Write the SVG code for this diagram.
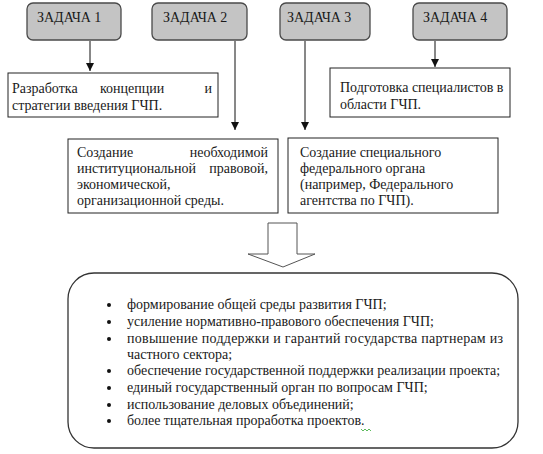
<svg xmlns="http://www.w3.org/2000/svg" width="543" height="454" viewBox="0 0 543 454">
<defs>
<marker id="ah" viewBox="0 0 8 8" refX="8" refY="4" markerWidth="8" markerHeight="8" markerUnits="userSpaceOnUse" orient="auto">
<path d="M0,0 L8,4 L0,8 Z" fill="#111"/>
</marker>
</defs>
<rect width="543" height="454" fill="#fff"/>
<g id="task1"><rect fill="#c4c4c4" stroke="#4a4a4a" stroke-width="1.3" x="27" y="3" width="94" height="37" rx="6"/><text font-family="Liberation Serif, serif" font-size="14" fill="#1a1a1a" x="37" y="22">ЗАДАЧА 1</text></g>
<g id="task2"><rect fill="#c4c4c4" stroke="#4a4a4a" stroke-width="1.3" x="152" y="3" width="95" height="37" rx="6"/><text font-family="Liberation Serif, serif" font-size="14" fill="#1a1a1a" x="163" y="22">ЗАДАЧА 2</text></g>
<g id="task3"><rect fill="#c4c4c4" stroke="#4a4a4a" stroke-width="1.3" x="280" y="3" width="90" height="37" rx="6"/><text font-family="Liberation Serif, serif" font-size="14" fill="#1a1a1a" x="287" y="22">ЗАДАЧА 3</text></g>
<g id="task4"><rect fill="#c4c4c4" stroke="#4a4a4a" stroke-width="1.3" x="413" y="3" width="94" height="37" rx="6"/><text font-family="Liberation Serif, serif" font-size="14" fill="#1a1a1a" x="423" y="22">ЗАДАЧА 4</text></g>
<g id="connectors" stroke="#111" stroke-width="1" fill="none">
<line x1="90" y1="41" x2="90" y2="71" marker-end="url(#ah)"/>
<line x1="235" y1="41" x2="235" y2="130" marker-end="url(#ah)"/>
<line x1="305" y1="41" x2="305" y2="130" marker-end="url(#ah)"/>
<line x1="435" y1="41" x2="435" y2="67" marker-end="url(#ah)"/>
<path d="M268,223 L297,223 L297,254 L315,254 L283,267 L248,254 L268,254 Z" fill="#fff" stroke="#555"/>
</g>
<g id="box1"><rect fill="#fff" stroke="#222" x="8" y="73" width="210" height="44"/>
<text font-family="Liberation Serif, serif" font-size="14" fill="#1a1a1a" y="93"><tspan x="12">Разработка</tspan><tspan x="100">концепции</tspan><tspan x="212" text-anchor="end">и</tspan></text>
<text font-family="Liberation Serif, serif" font-size="14" fill="#1a1a1a" x="12" y="110">стратегии введения ГЧП.</text></g>
<g id="box4"><rect fill="#fff" stroke="#222" x="330" y="68" width="180" height="49"/>
<text font-family="Liberation Serif, serif" font-size="14" fill="#1a1a1a" x="340" y="92">Подготовка специалистов в</text>
<text font-family="Liberation Serif, serif" font-size="14" fill="#1a1a1a" x="340" y="109">области ГЧП.</text></g>
<g id="box2"><rect fill="#fff" stroke="#222" x="68" y="139" width="210" height="74"/>
<text font-family="Liberation Serif, serif" font-size="14" fill="#1a1a1a" y="157"><tspan x="77">Создание</tspan><tspan x="268" text-anchor="end">необходимой</tspan></text>
<text font-family="Liberation Serif, serif" font-size="14" fill="#1a1a1a" y="173"><tspan x="77">институциональной</tspan><tspan x="268" text-anchor="end">правовой,</tspan></text>
<text font-family="Liberation Serif, serif" font-size="14" fill="#1a1a1a" x="77" y="189">экономической,</text>
<text font-family="Liberation Serif, serif" font-size="14" fill="#1a1a1a" x="77" y="205">организационной среды.</text></g>
<g id="box3"><rect fill="#fff" stroke="#222" x="288" y="138" width="210" height="75"/>
<text font-family="Liberation Serif, serif" font-size="14" fill="#1a1a1a" x="300" y="157">Создание специального</text>
<text font-family="Liberation Serif, serif" font-size="14" fill="#1a1a1a" x="300" y="173">федерального органа</text>
<text font-family="Liberation Serif, serif" font-size="14" fill="#1a1a1a" x="300" y="189">(например, Федерального</text>
<text font-family="Liberation Serif, serif" font-size="14" fill="#1a1a1a" x="300" y="205">агентства по ГЧП).</text></g>
<g id="result"><rect x="68" y="273" width="450" height="175" rx="26" fill="#fff" stroke="#333" stroke-width="1.3"/>
<g fill="#111"><circle cx="109" cy="305" r="2"/><circle cx="109" cy="322" r="2"/><circle cx="109" cy="339" r="2"/><circle cx="109" cy="371" r="2"/><circle cx="109" cy="388" r="2"/><circle cx="109" cy="405" r="2"/><circle cx="109" cy="421" r="2"/></g>
<text font-family="Liberation Serif, serif" font-size="14" fill="#1a1a1a" x="127" y="309">формирование общей среды развития ГЧП;</text>
<text font-family="Liberation Serif, serif" font-size="14" fill="#1a1a1a" x="127" y="326">усиление нормативно-правового обеспечения ГЧП;</text>
<text font-family="Liberation Serif, serif" font-size="14" fill="#1a1a1a" x="127" y="343" textLength="376" lengthAdjust="spacing">повышение поддержки и гарантий государства партнерам из</text>
<text font-family="Liberation Serif, serif" font-size="14" fill="#1a1a1a" x="127" y="359">частного сектора;</text>
<text font-family="Liberation Serif, serif" font-size="14" fill="#1a1a1a" x="127" y="375">обеспечение государственной поддержки реализации проекта;</text>
<text font-family="Liberation Serif, serif" font-size="14" fill="#1a1a1a" x="127" y="392">единый государственный орган по вопросам ГЧП;</text>
<text font-family="Liberation Serif, serif" font-size="14" fill="#1a1a1a" x="127" y="409">использование деловых объединений;</text>
<text font-family="Liberation Serif, serif" font-size="14" fill="#1a1a1a" x="127" y="425">более тщательная проработка проектов.</text>
<path d="M361,429 l2,2 l2,-2 l2,2 l2,-2 l2,2" fill="none" stroke="#3a3" stroke-width="0.8"/>
</g>
</svg>
